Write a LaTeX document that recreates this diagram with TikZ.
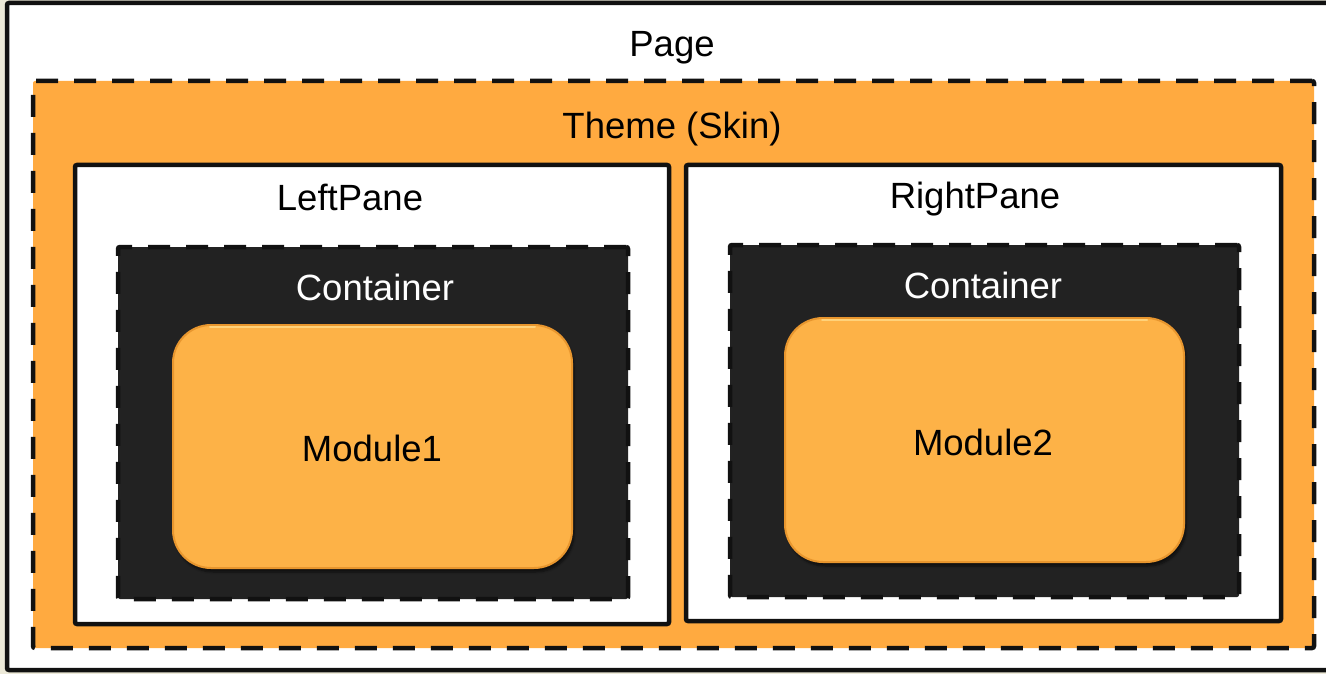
\documentclass[tikz,border=0pt]{standalone}
\usepackage{fontspec}
\setmainfont{Liberation Sans}
\usetikzlibrary{shadows.blur}
\definecolor{bgbeige}{HTML}{ECE9D8}
\definecolor{themeor}{HTML}{FFAA40}
\definecolor{modor}{HTML}{FDB247}
\definecolor{modedge}{HTML}{E8962E}
\definecolor{modlight}{HTML}{FFD27A}
\definecolor{contdark}{HTML}{222222}
\definecolor{linek}{HTML}{111111}
\tikzset{
  box/.style={rectangle, draw=linek, line width=4.5pt, rounded corners=2pt, inner sep=0pt},
  dashbox/.style={box, dash pattern=on 22pt off 16pt},
  lbl/.style={font=\fontsize{36.5}{42}\selectfont, inner sep=0pt, anchor=base},
  modbox/.style={rectangle, rounded corners=38pt, inner sep=0pt, fill=modor,
     draw=modedge, line width=2pt,
     blur shadow={shadow xshift=2pt, shadow yshift=-4pt, shadow blur steps=6, shadow opacity=55}},
  glint/.style={modlight, line width=2pt, line cap=round},
}
\begin{document}
\begin{tikzpicture}[x=1pt,y=-1pt]
\useasboundingbox (0,0) rectangle (1326,674);
\clip (0,0) rectangle (1326,674);
\fill[bgbeige] (0,0) rectangle (1326,674);
% page
\node[box, fill=white, minimum width=1340pt, minimum height=667pt] (page) at (677,336.5) {};
\node[lbl] (pagelbl) at (672,57) {Page};
% theme
\node[dashbox, fill=themeor, minimum width=1281pt, minimum height=567pt] (theme) at (673.5,364.5) {};
\node[lbl] (themelbl) at (672,139) {Theme (Skin)};
% panes
\node[box, fill=white, minimum width=594pt, minimum height=459pt] (lpane) at (372,394.5) {};
\node[lbl] (lpanelbl) at (350,211) {LeftPane};
\node[box, fill=white, minimum width=595pt, minimum height=456pt] (rpane) at (983.5,393) {};
\node[lbl] (rpanelbl) at (975,208) {RightPane};
% containers
\node[dashbox, fill=contdark, minimum width=510pt, minimum height=352pt] (lcont) at (373,423) {};
\node[lbl, text=white] (lcontlbl) at (375,300.5) {Container};
\node[dashbox, fill=contdark, minimum width=509pt, minimum height=352pt] (rcont) at (984.5,421) {};
\node[lbl, text=white] (rcontlbl) at (983,298) {Container};
% modules
\node[modbox, minimum width=399pt, minimum height=243pt] (mod1) at (372.5,446.5) {};
\draw[glint] ([xshift=38pt,yshift=-3pt]mod1.north west) -- ([xshift=-38pt,yshift=-3pt]mod1.north east);
\node[lbl] (mod1lbl) at (372,461) {Module1};
\node[modbox, minimum width=399pt, minimum height=244pt] (mod2) at (984.5,440) {};
\draw[glint] ([xshift=38pt,yshift=-3pt]mod2.north west) -- ([xshift=-38pt,yshift=-3pt]mod2.north east);
\node[lbl] (mod2lbl) at (983,455) {Module2};
\end{tikzpicture}
\end{document}
